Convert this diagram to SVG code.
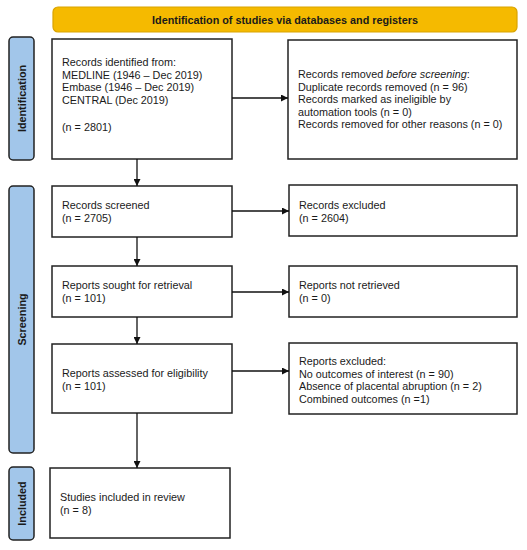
<svg xmlns="http://www.w3.org/2000/svg" width="527" height="550" viewBox="0 0 527 550">
<defs>
<style>
.box{fill:#fff;stroke:#222;stroke-width:1.5}
.lbl{fill:#A2C6EA;stroke:#222;stroke-width:1.5}
.t{font-family:"Liberation Sans",Arial,sans-serif;font-size:10.8px;fill:#1a1a1a}
.b{font-family:"Liberation Sans",Arial,sans-serif;font-size:10.8px;font-weight:bold;fill:#1a1a1a}
.c{stroke:#111;stroke-width:1.3;fill:none;marker-end:url(#ah)}
</style>
<marker id="ah" viewBox="0 0 10 10" refX="10" refY="5" markerWidth="7" markerHeight="7" markerUnits="userSpaceOnUse" orient="auto">
<path d="M0,0 L10,5 L0,10 z" fill="#111"/>
</marker>
</defs>
<rect width="527" height="550" fill="#fff"/>
<g id="banner">
<rect x="53" y="7" width="464" height="25" rx="5" fill="#F5BA00" stroke="#D9A300" stroke-width="1.2"/>
<text class="b" x="285" y="23.5" text-anchor="middle">Identification of studies via databases and registers</text>
</g>
<g id="lbl-identification">
<rect class="lbl" x="9" y="37" width="25" height="123" rx="4"/>
<text class="b" transform="translate(25.5,98.5) rotate(-90)" text-anchor="middle">Identification</text>
</g>
<g id="lbl-screening">
<rect class="lbl" x="9" y="186" width="25" height="267" rx="4"/>
<text class="b" transform="translate(25.5,319.5) rotate(-90)" text-anchor="middle">Screening</text>
</g>
<g id="lbl-included">
<rect class="lbl" x="9" y="467" width="25" height="73" rx="4"/>
<text class="b" transform="translate(25.5,503.5) rotate(-90)" text-anchor="middle">Included</text>
</g>
<g id="n-identified">
<rect class="box" x="52" y="39" width="180" height="120"/>
<text class="t" x="62" y="66">Records identified from:</text>
<text class="t" x="62" y="78.5">MEDLINE (1946 – Dec 2019)</text>
<text class="t" x="62" y="91">Embase (1946 – Dec 2019)</text>
<text class="t" x="62" y="103.5">CENTRAL (Dec 2019)</text>
<text class="t" x="62" y="130.5">(n = 2801)</text>
</g>
<g id="n-removed">
<rect class="box" x="288" y="40" width="229" height="119"/>
<text class="t" x="298" y="78">Records removed <tspan font-style="italic">before screening</tspan>:</text>
<text class="t" x="298" y="90.5">Duplicate records removed (n = 96)</text>
<text class="t" x="298" y="103">Records marked as ineligible by</text>
<text class="t" x="298" y="115.5">automation tools (n = 0)</text>
<text class="t" x="298" y="128">Records removed for other reasons (n = 0)</text>
</g>
<g id="n-screened">
<rect class="box" x="52" y="186" width="180" height="51"/>
<text class="t" x="62" y="209">Records screened</text>
<text class="t" x="62" y="221.5">(n = 2705)</text>
</g>
<g id="n-excluded">
<rect class="box" x="289" y="185" width="228" height="51"/>
<text class="t" x="299" y="209">Records excluded</text>
<text class="t" x="299" y="221.5">(n = 2604)</text>
</g>
<g id="n-sought">
<rect class="box" x="52" y="266" width="180" height="51"/>
<text class="t" x="62" y="289">Reports sought for retrieval</text>
<text class="t" x="62" y="301.5">(n = 101)</text>
</g>
<g id="n-notretrieved">
<rect class="box" x="289" y="266" width="228" height="51"/>
<text class="t" x="299" y="289">Reports not retrieved</text>
<text class="t" x="299" y="301.5">(n = 0)</text>
</g>
<g id="n-assessed">
<rect class="box" x="52" y="344" width="180" height="69"/>
<text class="t" x="62" y="377">Reports assessed for eligibility</text>
<text class="t" x="62" y="389.5">(n = 101)</text>
</g>
<g id="n-repexcluded">
<rect class="box" x="289" y="343" width="228" height="71"/>
<text class="t" x="299" y="365">Reports excluded:</text>
<text class="t" x="299" y="377.5">No outcomes of interest (n = 90)</text>
<text class="t" x="299" y="390">Absence of placental abruption (n = 2)</text>
<text class="t" x="299" y="402.5">Combined outcomes (n =1)</text>
</g>
<g id="n-included">
<rect class="box" x="50" y="468" width="180" height="70"/>
<text class="t" x="60" y="501">Studies included in review</text>
<text class="t" x="60" y="513.5">(n = 8)</text>
</g>
<g id="connectors">
<path class="c" d="M232,98 H288"/>
<path class="c" d="M137,159 V186"/>
<path class="c" d="M232,211 H289"/>
<path class="c" d="M137,237 V266"/>
<path class="c" d="M232,292 H289"/>
<path class="c" d="M137,317 V344"/>
<path class="c" d="M232,371 H289"/>
<path class="c" d="M137,413 V468"/>
</g>
</svg>
